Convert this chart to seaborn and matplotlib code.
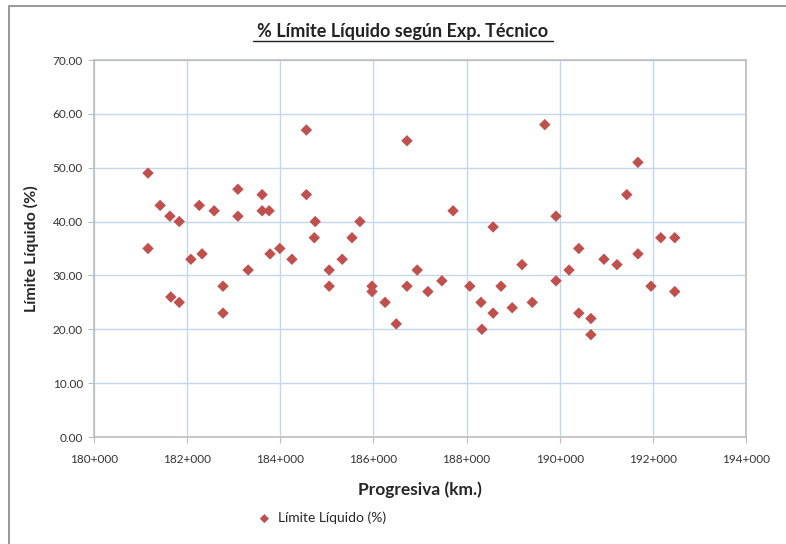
import matplotlib
matplotlib.use("Agg")
import matplotlib.pyplot as plt
import matplotlib.ticker as mticker
from matplotlib.patches import Rectangle
import seaborn as sns
import pandas as pd

# progresiva (m) y limite liquido (%)
progresiva = [181160, 181160, 181420, 181630, 181650, 181830, 181830, 182080, 182260, 182320,
              182580, 182770, 182770, 183090, 183090, 183310, 183610, 183610, 183760, 183780,
              183990, 184250, 184560, 184560, 184750, 184730, 185050, 185050, 185330, 185540,
              185710, 185970, 185970, 186250, 186490, 186720, 186720, 186940, 187170, 187470,
              187710, 188070, 188310, 188330, 188570, 188570, 188740, 188980, 189190, 189410,
              189680, 189920, 189920, 190200, 190410, 190410, 190670, 190670, 190950, 191230,
              191440, 191680, 191680, 191960, 192170, 192470, 192470]
limite_liquido = [49, 35, 43, 41, 26, 40, 25, 33, 43, 34,
                  42, 28, 23, 46, 41, 31, 45, 42, 42, 34,
                  35, 33, 57, 45, 40, 37, 31, 28, 33, 37,
                  40, 28, 27, 25, 21, 55, 28, 31, 27, 29,
                  42, 28, 25, 20, 39, 23, 28, 24, 32, 25,
                  58, 41, 29, 31, 35, 23, 22, 19, 33, 32,
                  45, 51, 34, 28, 37, 37, 27]

df = pd.DataFrame({"Progresiva": progresiva, "Límite Líquido (%)": limite_liquido})

sns.set_theme(style="white")
plt.rcParams['font.family'] = ['Lato', 'DejaVu Sans']

fig = plt.figure(figsize=(7.86, 5.44), dpi=100)
ax = fig.add_axes([94 / 786, 1 - 437 / 544, (746 - 94) / 786, (437 - 60) / 544])

sns.scatterplot(data=df, x="Progresiva", y="Límite Líquido (%)", ax=ax,
                marker="D", s=34, color="#c0504d", edgecolor="none",
                label="Límite Líquido (%)", legend=False, zorder=3)

ax.set_xlim(180000, 194000)
ax.set_ylim(0, 70)
ax.xaxis.set_major_locator(mticker.MultipleLocator(2000))
ax.yaxis.set_major_locator(mticker.MultipleLocator(10))
ax.xaxis.set_major_formatter(mticker.FuncFormatter(lambda v, p: "%d+%03d" % (v // 1000, v % 1000)))
ax.yaxis.set_major_formatter(mticker.FormatStrFormatter("%.2f"))
ax.grid(True, color="#c5d7ee", linewidth=1)
ax.set_axisbelow(True)
for s in ax.spines.values():
    s.set_color("#bdbdbd")
    s.set_linewidth(1.2)
ax.tick_params(axis="both", labelsize=8.5, colors="#333333", length=4, width=0.8,
               direction="out", bottom=True, left=True)
ax.tick_params(axis="x", pad=8)
ax.tick_params(axis="y", pad=4)
ax.tick_params(axis="both", color="#bdbdbd")

ax.set_xlabel("Progresiva (km.)", fontsize=12.5, fontweight="bold", labelpad=12)
ax.set_ylabel("Límite Líquido (%)", fontsize=11.5, fontweight="bold", labelpad=10)

fig.text(403 / 786, 1 - 32 / 544, "% Límite Líquido según Exp. Técnico", ha="center", va="center",
         fontsize=13, fontweight="bold", color="#222222")
# subrayado del titulo
fig.add_artist(plt.Line2D([253 / 786, 553 / 786], [1 - 41 / 544, 1 - 41 / 544], color="#222222", linewidth=1))

h, l = ax.get_legend_handles_labels()
fig.legend(h, l, loc="center left", bbox_to_anchor=(238 / 786, 1 - 518 / 544), frameon=False,
           fontsize=10, handletextpad=0.0, markerscale=0.8)

fig.add_artist(Rectangle((9 / 786, -0.05), 1.2, 1 - 6 / 544 + 0.05, transform=fig.transFigure,
                         fill=False, edgecolor="#888888", linewidth=1.2))

fig.savefig("out.png", dpi=100)
